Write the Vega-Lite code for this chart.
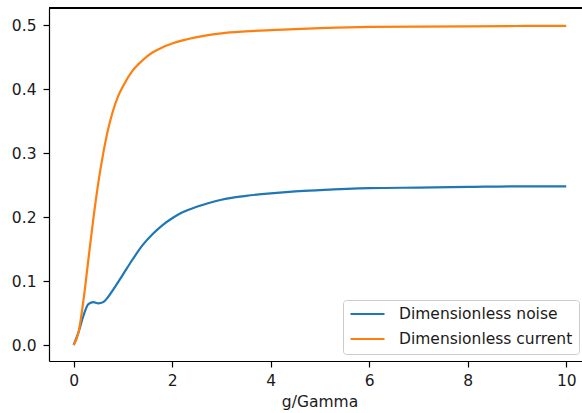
{
  "$schema": "https://vega.github.io/schema/vega-lite/v6.json",
  "autosize": {"type": "none"},
  "padding": {"left": 49, "top": 8, "right": 0, "bottom": 52},
  "width": 533,
  "height": 353,
  "config": {
    "font": "DejaVu Sans",
    "view": {"stroke": null},
    "axis": {
      "grid": false,
      "domainColor": "#000000",
      "domainWidth": 1.2,
      "tickColor": "#000000",
      "tickWidth": 1.2,
      "tickSize": 6,
      "labelFontSize": 15.5,
      "labelColor": "#1a1a1a",
      "labelPadding": 6,
      "titleFontSize": 15.5,
      "titleFontWeight": "normal",
      "titleColor": "#1a1a1a"
    }
  },
  "data": {
    "values": [
      {"g": 0.0, "value": 0.0, "series": "Dimensionless noise"},
      {"g": 0.1, "value": 0.020, "series": "Dimensionless noise"},
      {"g": 0.2, "value": 0.046, "series": "Dimensionless noise"},
      {"g": 0.3, "value": 0.064, "series": "Dimensionless noise"},
      {"g": 0.4, "value": 0.067, "series": "Dimensionless noise"},
      {"g": 0.5, "value": 0.065, "series": "Dimensionless noise"},
      {"g": 0.6, "value": 0.067, "series": "Dimensionless noise"},
      {"g": 0.7, "value": 0.075, "series": "Dimensionless noise"},
      {"g": 0.8, "value": 0.086, "series": "Dimensionless noise"},
      {"g": 0.9, "value": 0.098, "series": "Dimensionless noise"},
      {"g": 1.0, "value": 0.110, "series": "Dimensionless noise"},
      {"g": 1.2, "value": 0.134, "series": "Dimensionless noise"},
      {"g": 1.4, "value": 0.156, "series": "Dimensionless noise"},
      {"g": 1.6, "value": 0.173, "series": "Dimensionless noise"},
      {"g": 1.8, "value": 0.187, "series": "Dimensionless noise"},
      {"g": 2.0, "value": 0.198, "series": "Dimensionless noise"},
      {"g": 2.2, "value": 0.207, "series": "Dimensionless noise"},
      {"g": 2.5, "value": 0.216, "series": "Dimensionless noise"},
      {"g": 2.8, "value": 0.223, "series": "Dimensionless noise"},
      {"g": 3.0, "value": 0.227, "series": "Dimensionless noise"},
      {"g": 3.5, "value": 0.233, "series": "Dimensionless noise"},
      {"g": 4.0, "value": 0.237, "series": "Dimensionless noise"},
      {"g": 4.5, "value": 0.240, "series": "Dimensionless noise"},
      {"g": 5.0, "value": 0.242, "series": "Dimensionless noise"},
      {"g": 6.0, "value": 0.245, "series": "Dimensionless noise"},
      {"g": 7.0, "value": 0.246, "series": "Dimensionless noise"},
      {"g": 8.0, "value": 0.247, "series": "Dimensionless noise"},
      {"g": 9.0, "value": 0.248, "series": "Dimensionless noise"},
      {"g": 10.0, "value": 0.248, "series": "Dimensionless noise"},
      {"g": 0.0, "value": 0.0, "series": "Dimensionless current"},
      {"g": 0.1, "value": 0.020, "series": "Dimensionless current"},
      {"g": 0.2, "value": 0.070, "series": "Dimensionless current"},
      {"g": 0.3, "value": 0.134, "series": "Dimensionless current"},
      {"g": 0.4, "value": 0.197, "series": "Dimensionless current"},
      {"g": 0.5, "value": 0.253, "series": "Dimensionless current"},
      {"g": 0.6, "value": 0.299, "series": "Dimensionless current"},
      {"g": 0.7, "value": 0.337, "series": "Dimensionless current"},
      {"g": 0.8, "value": 0.366, "series": "Dimensionless current"},
      {"g": 0.9, "value": 0.388, "series": "Dimensionless current"},
      {"g": 1.0, "value": 0.404, "series": "Dimensionless current"},
      {"g": 1.2, "value": 0.429, "series": "Dimensionless current"},
      {"g": 1.4, "value": 0.445, "series": "Dimensionless current"},
      {"g": 1.6, "value": 0.457, "series": "Dimensionless current"},
      {"g": 1.8, "value": 0.465, "series": "Dimensionless current"},
      {"g": 2.0, "value": 0.471, "series": "Dimensionless current"},
      {"g": 2.5, "value": 0.481, "series": "Dimensionless current"},
      {"g": 3.0, "value": 0.487, "series": "Dimensionless current"},
      {"g": 3.5, "value": 0.490, "series": "Dimensionless current"},
      {"g": 4.0, "value": 0.492, "series": "Dimensionless current"},
      {"g": 5.0, "value": 0.495, "series": "Dimensionless current"},
      {"g": 6.0, "value": 0.497, "series": "Dimensionless current"},
      {"g": 7.0, "value": 0.4975, "series": "Dimensionless current"},
      {"g": 8.0, "value": 0.498, "series": "Dimensionless current"},
      {"g": 9.0, "value": 0.4985, "series": "Dimensionless current"},
      {"g": 10.0, "value": 0.4988, "series": "Dimensionless current"}
    ]
  },
  "layer": [
    {
      "mark": {"type": "line", "strokeWidth": 2.2, "interpolate": "monotone"},
      "encoding": {
        "x": {
          "field": "g",
          "type": "quantitative",
          "scale": {"domain": [-0.5, 10.32], "nice": false, "zero": false},
          "axis": {
            "orient": "bottom",
            "values": [0, 2, 4, 6, 8, 10],
            "format": "d",
            "title": "g/Gamma",
            "titleX": 270.5,
            "titleY": 45.5,
            "titleBaseline": "alphabetic",
            "titleAnchor": "middle"
          }
        },
        "y": {
          "field": "value",
          "type": "quantitative",
          "scale": {"domain": [-0.025, 0.5266], "nice": false, "zero": false},
          "axis": {
            "values": [0, 0.1, 0.2, 0.3, 0.4, 0.5],
            "format": ".1f",
            "labelPadding": 7,
            "title": null
          }
        },
        "color": {
          "field": "series",
          "type": "nominal",
          "sort": ["Dimensionless noise", "Dimensionless current"],
          "scale": {
            "domain": ["Dimensionless noise", "Dimensionless current"],
            "range": ["#1f77b4", "#ff7f0e"]
          },
          "legend": {
            "title": null,
            "orient": "none",
            "legendX": 294,
            "legendY": 292,
            "symbolType": "stroke",
            "symbolSize": 1156,
            "symbolStrokeWidth": 2.2,
            "clipHeight": 16,
            "rowPadding": 8,
            "labelOffset": 13,
            "labelFontSize": 15.5,
            "labelColor": "#1a1a1a",
            "labelLimit": 300,
            "padding": 6,
            "fillColor": "rgba(255,255,255,0.8)",
            "strokeColor": "#cccccc",
            "cornerRadius": 3
          }
        }
      }
    },
    {
      "mark": {"type": "rule", "color": "#000000", "strokeWidth": 1.2},
      "encoding": {"y": {"datum": 0.5266}}
    }
  ]
}
